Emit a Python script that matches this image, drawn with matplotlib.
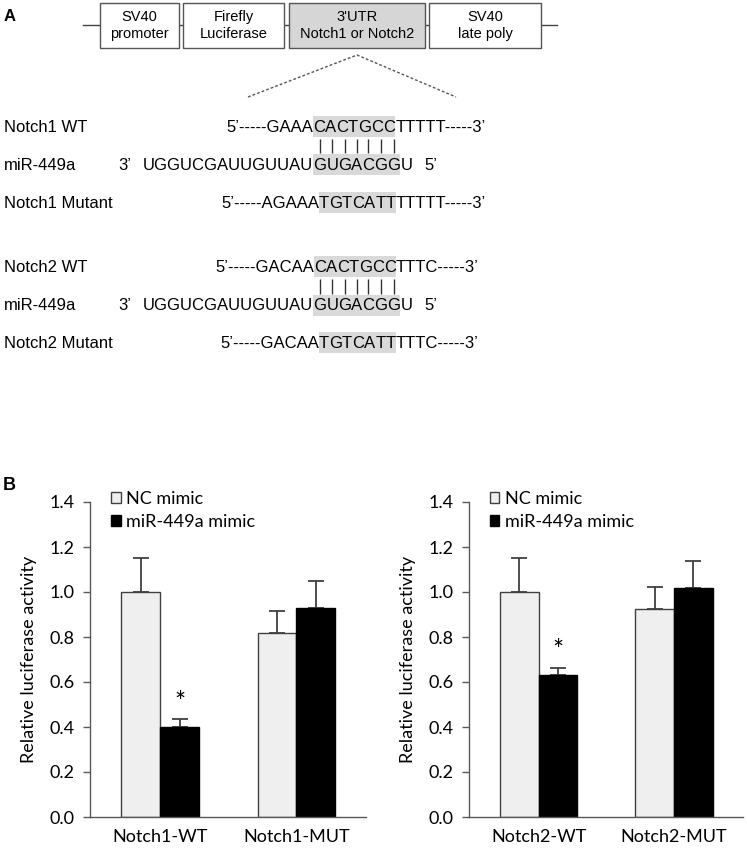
"""Luciferase reporter: construct / seed-pairing diagram (A) and assay bars (B)."""

import numpy as np
import matplotlib.pyplot as plt
from matplotlib.patches import Rectangle, Patch

# ---- panel A content -------------------------------------------------------
BOX_LABELS = ["SV40\npromoter", "Firefly\nLuciferase", "3'UTR\nNotch1 or Notch2", "SV40\nlate poly"]
BOX_SPANS = [(100, 179), (183, 284), (289, 425), (429, 541)]
BOX_FILLS = ["white", "white", "#d6d6d6", "white"]

ROW_LABELS = ["Notch1 WT", "miR-449a", "Notch1 Mutant", "Notch2 WT", "miR-449a", "Notch2 Mutant"]
# each row: list of (text, highlighted)
ROW_SEQS = [
    [("5\u2019-----GAAA", False), ("CACTGCC", True), ("TTTTT-----3\u2019", False)],
    [("UGGUCGAUUGUUAU", False), ("GUGACGG", True), ("U", False)],
    [("5\u2019-----AGAAA", False), ("TGTCATT", True), ("TTTTT-----3\u2019", False)],
    [("5\u2019-----GACAA", False), ("CACTGCC", True), ("TTTC-----3\u2019", False)],
    [("UGGUCGAUUGUUAU", False), ("GUGACGG", True), ("U", False)],
    [("5\u2019-----GACAA", False), ("TGTCATT", True), ("TTTC-----3\u2019", False)],
]
ROW_Y = [127, 165, 203, 267, 306, 343]
ROW_X = [226, 143, 221, 215, 143, 220]

# ---- panel B data ----------------------------------------------------------
SERIES = ["NC mimic", "miR-449a mimic"]
groups_notch1 = ["Notch1-WT", "Notch1-MUT"]
nc_notch1 = [1.00, 0.82]
nc_notch1_err = [0.15, 0.097]
mir_notch1 = [0.40, 0.93]
mir_notch1_err = [0.034, 0.117]

groups_notch2 = ["Notch2-WT", "Notch2-MUT"]
nc_notch2 = [1.00, 0.925]
nc_notch2_err = [0.15, 0.097]
mir_notch2 = [0.63, 1.02]
mir_notch2_err = [0.034, 0.117]

sig_notch1 = [True, False]  # asterisk over miR-449a bar
sig_notch2 = [True, False]

SEQ_FONT = ["Liberation Sans", "DejaVu Sans"]
CHART_FONT = ["Lato", "DejaVu Sans"]
NC_COLOR = "#efefef"
MIR_COLOR = "#000000"
EDGE = "#404040"
HL = "#d9d9d9"

fig = plt.figure(figsize=(7.47, 8.5), dpi=100)

# full-figure overlay in pixel coordinates for the diagram
ax0 = fig.add_axes([0, 0, 1, 1])
ax0.set_xlim(0, 747)
ax0.set_ylim(850, 0)
ax0.axis("off")
ax0.patch.set_visible(False)
renderer = fig.canvas.get_renderer()

ax0.text(4, 16, "A", fontsize=12, fontweight="bold", family=SEQ_FONT, va="center")
ax0.text(3, 485, "B", fontsize=13, fontweight="bold", family=SEQ_FONT, va="center")

# plasmid backbone and boxes
ax0.plot([83, 557], [25, 25], color="#444444", lw=1, zorder=1)
for label, (x0, x1), fc in zip(BOX_LABELS, BOX_SPANS, BOX_FILLS):
    ax0.add_patch(Rectangle((x0, 3), x1 - x0, 45, facecolor=fc,
                            edgecolor="#555555", lw=1, zorder=2))
    ax0.text((x0 + x1) / 2, 25.5, label, ha="center", va="center", fontsize=10.5,
             family=SEQ_FONT, linespacing=1.35, zorder=3)

# zoom-out lines under the 3'UTR box
ax0.plot([248, 357, 456], [97, 55, 97], color="#555555", lw=1,
         linestyle=(0, (2, 1.5)))


def draw_seq(x, y, parts):
    """Draw text pieces side by side; shade highlighted ones. Returns char centres of highlight."""
    centres = []
    for txt, hl in parts:
        if hl:
            start = x
            for ch in txt:
                t = ax0.text(x, y, ch, ha="left", va="center", fontsize=12,
                             family=SEQ_FONT, zorder=3)
                w = t.get_window_extent(renderer).width
                centres.append(x + w / 2)
                x += w
            ax0.add_patch(Rectangle((start, y - 11), x - start, 21, facecolor=HL,
                                    edgecolor="none", zorder=2))
        else:
            t = ax0.text(x, y, txt, ha="left", va="center", fontsize=12,
                         family=SEQ_FONT, zorder=3)
            x += t.get_window_extent(renderer).width
    return centres, x


for i, (label, parts, y, x) in enumerate(zip(ROW_LABELS, ROW_SEQS, ROW_Y, ROW_X)):
    ax0.text(4, y, label, ha="left", va="center", fontsize=12, family=SEQ_FONT)
    centres, x_end = draw_seq(x, y, parts)
    if label.startswith("miR"):
        ax0.text(118, y, "3\u2019", ha="left", va="center", fontsize=12, family=SEQ_FONT)
        ax0.text(x_end + 12, y, "5\u2019", ha="left", va="center", fontsize=12,
                 family=SEQ_FONT)
        # base-pairing ticks between the target row above and the miRNA
        y_top = ROW_Y[i - 1] + 12
        ax0.vlines(centres, y_top, y - 12, color="#333333", lw=1)


def bar_panel(ax, groups, nc, nc_err, mir, mir_err, sig):
    x = np.arange(len(groups))
    w = 0.285
    ax.bar(x - w / 2, nc, w, color=NC_COLOR, edgecolor=EDGE, lw=1, zorder=2,
           label=SERIES[0])
    ax.bar(x + w / 2, mir, w, color=MIR_COLOR, edgecolor="#000000", lw=1, zorder=2,
           label=SERIES[1])
    ekw = dict(fmt="none", ecolor="#404040", elinewidth=1.3, capsize=5.5,
               capthick=1.3, zorder=1)
    ax.errorbar(x - w / 2, nc, yerr=[np.zeros(len(nc)), nc_err], **ekw)
    ax.errorbar(x + w / 2, mir, yerr=[np.zeros(len(mir)), mir_err], **ekw)
    for xi, v, e, s in zip(x, mir, mir_err, sig):
        if s:
            ax.text(xi + w / 2, v + e + 0.07, "*", ha="center", va="center",
                    fontsize=19, family=CHART_FONT)

    ax.set_xlim(-0.515, 1.51)
    ax.set_ylim(0, 1.4)
    ax.set_yticks(np.arange(0, 1.41, 0.2))
    ax.set_yticklabels([f"{v:.1f}" for v in np.arange(0, 1.41, 0.2)],
                       family=CHART_FONT, fontsize=13)
    ax.set_xticks(x)
    ax.set_xticklabels(groups, family=CHART_FONT, fontsize=13)
    ax.tick_params(axis="x", length=0, pad=9)
    ax.tick_params(axis="y", length=5, width=1, color="#595959", pad=6)
    for side in ("top", "right"):
        ax.spines[side].set_visible(False)
    for side in ("left", "bottom"):
        ax.spines[side].set_color("#595959")
        ax.spines[side].set_linewidth(1)
    ax.set_ylabel("Relative luciferase activity", family=CHART_FONT, fontsize=13,
                  labelpad=9)
    handles = [Patch(facecolor=NC_COLOR, edgecolor=EDGE, lw=1, label=SERIES[0]),
               Patch(facecolor=MIR_COLOR, edgecolor="#000000", lw=1, label=SERIES[1])]
    ax.legend(handles=handles, loc="upper left", bbox_to_anchor=(0.075, 1.035),
              frameon=False, borderpad=0, borderaxespad=0, handlelength=0.55,
              handleheight=0.55, handletextpad=0.3, labelspacing=0.4,
              prop={"family": CHART_FONT, "size": 13})


ax1 = fig.add_axes([90 / 747, 33 / 850, 276 / 747, 315 / 850])
bar_panel(ax1, groups_notch1, nc_notch1, nc_notch1_err, mir_notch1, mir_notch1_err,
          sig_notch1)
ax2 = fig.add_axes([469 / 747, 33 / 850, 274 / 747, 315 / 850])
bar_panel(ax2, groups_notch2, nc_notch2, nc_notch2_err, mir_notch2, mir_notch2_err,
          sig_notch2)

fig.savefig("out.png", dpi=100, facecolor="white")
